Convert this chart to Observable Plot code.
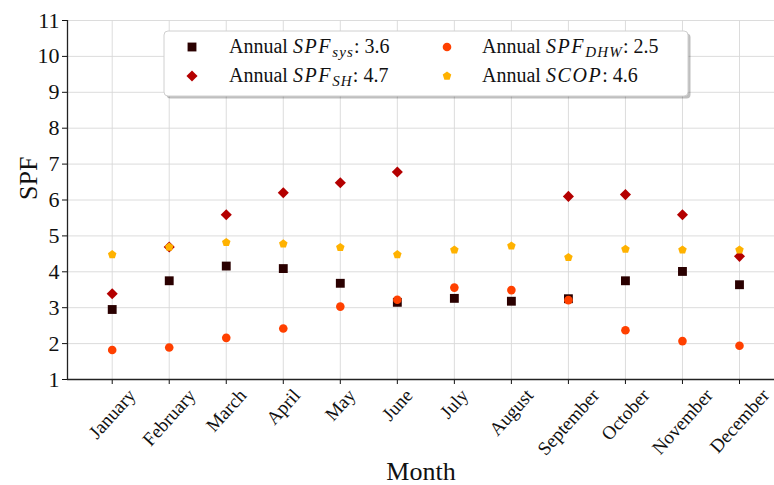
<!DOCTYPE html>
<html>
<head>
<meta charset="utf-8">
<script src="https://cdn.jsdelivr.net/npm/d3@7"></script>
<script src="https://cdn.jsdelivr.net/npm/@observablehq/plot@0.6"></script>
<style>
  body { margin: 0; background: #fff; }
  #chart svg { display: block; }
  #chart svg text { font-family: "Liberation Serif", "Times New Roman", serif !important; }
</style>
</head>
<body>
<div id="chart"></div>
<script>
// Monthly seasonal performance factors
const months = ["January", "February", "March", "April", "May", "June",
                "July", "August", "September", "October", "November", "December"];
const spfSys = [2.95, 3.75, 4.16, 4.09, 3.68, 3.15, 3.26, 3.18, 3.25, 3.75, 4.01, 3.64];
const spfSH  = [3.39, 4.69, 5.59, 6.20, 6.48, 6.78, null, null, 6.10, 6.15, 5.59, 4.43];
const spfDHW = [1.82, 1.89, 2.16, 2.42, 3.03, 3.22, 3.56, 3.49, 3.21, 2.37, 2.07, 1.94];
const scop   = [4.48, 4.69, 4.82, 4.78, 4.68, 4.48, 4.61, 4.72, 4.40, 4.63, 4.61, 4.61];

// Annual figures shown in the legend
const annualSys = 3.6;
const annualSH = 4.7;
const annualDHW = 2.5;
const annualSCOP = 4.6;

const yTicks = [1, 2, 3, 4, 5, 6, 7, 8, 9, 10, 11];

const FONT = "Liberation Serif, Times New Roman, serif";
const colors = {sys: "#2a0000", sh: "#b40000", dhw: "#ff4000", scop: "#ffb200"};
const sizes = {sys: 5, sh: 5, dhw: 4.3, scop: 3.9};

// Regular pentagon marker (area-based, like the d3 symbol types)
const pentagon = {
  draw(context, size) {
    const r = Math.sqrt(size / (2.5 * Math.sin(2 * Math.PI / 5)));
    for (let k = 0; k < 5; ++k) {
      const a = -Math.PI / 2 + k * 2 * Math.PI / 5;
      const px = r * Math.cos(a), py = r * Math.sin(a);
      if (k === 0) context.moveTo(px, py); else context.lineTo(px, py);
    }
    context.closePath();
  }
};

const rows = (values) => values
  .map((v, i) => ({i, v}))
  .filter((d) => d.v != null);

// Rotated month labels are centred under their ticks: offset each by half its rotated extent
const measure = document.createElement("canvas").getContext("2d");
const monthFontSize = 19;
const monthAngle = 48;
measure.font = `${monthFontSize}px "Liberation Serif"`;
const monthOffset = (m) => {
  const L = measure.measureText(m).width;
  const a = monthAngle * Math.PI / 180;
  return 8 + (L * Math.sin(a) + 0.72 * monthFontSize * Math.cos(a)) / 2;
};

const xDomain = [-0.784, 11.614];
const gridStyle = {stroke: "#d8d8d8", strokeOpacity: 1, strokeWidth: 0.9};

const chart = Plot.plot({
  width: 774,
  height: 485,
  marginLeft: 67,
  marginRight: 0,
  marginTop: 20,
  marginBottom: 106,
  style: {fontFamily: FONT, background: "white", color: "#111"},
  x: {domain: xDomain},
  y: {domain: [1, 11]},
  marks: [
    Plot.gridX(d3.range(months.length), gridStyle),
    Plot.gridY(yTicks, gridStyle),
    Plot.axisY(yTicks, {tickSize: 5, tickPadding: 3, fontSize: 22, fontFamily: FONT, label: null, tickFormat: (d) => String(d)}),
    Plot.axisX(d3.range(months.length), {tickSize: 5, label: null, tickFormat: () => ""}),
    Plot.ruleX([xDomain[0]], {stroke: "#222", strokeWidth: 1.3}),
    Plot.ruleY([1], {stroke: "#222", strokeWidth: 1.3}),
    ...months.map((m, i) => Plot.text([{i, m}], {
      x: "i", text: "m", frameAnchor: "bottom",
      rotate: -monthAngle, textAnchor: "middle", lineAnchor: "middle",
      dy: monthOffset(m), fontSize: monthFontSize, fontFamily: FONT, fill: "#111"
    })),
    Plot.dot(rows(spfSys), {x: "i", y: "v", symbol: "square", r: sizes.sys, fill: colors.sys}),
    Plot.dot(rows(spfSH), {x: "i", y: "v", symbol: "diamond2", r: sizes.sh, fill: colors.sh}),
    Plot.dot(rows(spfDHW), {x: "i", y: "v", symbol: "circle", r: sizes.dhw, fill: colors.dhw}),
    Plot.dot(rows(scop), {x: "i", y: "v", symbol: pentagon, r: sizes.scop, fill: colors.scop}),
    Plot.text(["Month"], {frameAnchor: "bottom", dy: 92, lineAnchor: "middle", fontSize: 26, fontFamily: FONT, fill: "#111"}),
    Plot.text(["SPF"], {frameAnchor: "left", dx: -39, rotate: -90, lineAnchor: "middle", fontSize: 26, fontFamily: FONT, fill: "#111"})
  ]
});

document.getElementById("chart").append(chart);

// Legend box inside the plot area
const svg = d3.select(chart);
const legend = svg.append("g")
  .style("font-family", FONT)
  .attr("text-anchor", "start")
  .attr("fill", "#111");
const box = {x: 164, y: 31, w: 524, h: 65};
legend.append("rect")
  .attr("x", box.x + 2.5).attr("y", box.y + 2.5)
  .attr("width", box.w).attr("height", box.h)
  .attr("rx", 4).attr("fill", "#000").attr("fill-opacity", 0.25);
legend.append("rect")
  .attr("x", box.x).attr("y", box.y)
  .attr("width", box.w).attr("height", box.h)
  .attr("rx", 4).attr("fill", "#fff").attr("stroke", "#d0d0d0").attr("stroke-width", 1);

const entries = [
  {col: 0, row: 0, sym: d3.symbolSquare, r: sizes.sys, color: colors.sys, name: "SPF", sub: "sys", value: annualSys},
  {col: 0, row: 1, sym: d3.symbolDiamond2, r: sizes.sh, color: colors.sh, name: "SPF", sub: "SH", value: annualSH},
  {col: 1, row: 0, sym: d3.symbolCircle, r: sizes.dhw, color: colors.dhw, name: "SPF", sub: "DHW", value: annualDHW},
  {col: 1, row: 1, sym: pentagon, r: sizes.scop, color: colors.scop, name: "SCOP", sub: null, value: annualSCOP}
];
const colMarker = [192, 447];
const colText = [229, 482];
const rowMarker = [47, 76];
const rowBase = [53, 82];

for (const e of entries) {
  legend.append("path")
    .attr("d", d3.symbol(e.sym, Math.PI * e.r * e.r)())
    .attr("transform", `translate(${colMarker[e.col]},${rowMarker[e.row]})`)
    .attr("fill", e.color);
  const t = legend.append("text")
    .attr("x", colText[e.col]).attr("y", rowBase[e.row])
    .attr("text-anchor", "start")
    .style("font-size", "20px");
  t.append("tspan").text("Annual ");
  t.append("tspan").attr("font-style", "italic").style("letter-spacing", "1.6px").text(e.name);
  if (e.sub) {
    t.append("tspan").attr("font-style", "italic").style("font-size", "15px")
      .style("letter-spacing", "1.2px").attr("dy", 4).text(e.sub);
    t.append("tspan").attr("dy", -4).text(`: ${e.value}`);
  } else {
    t.append("tspan").text(`: ${e.value}`);
  }
}
</script>
</body>
</html>
